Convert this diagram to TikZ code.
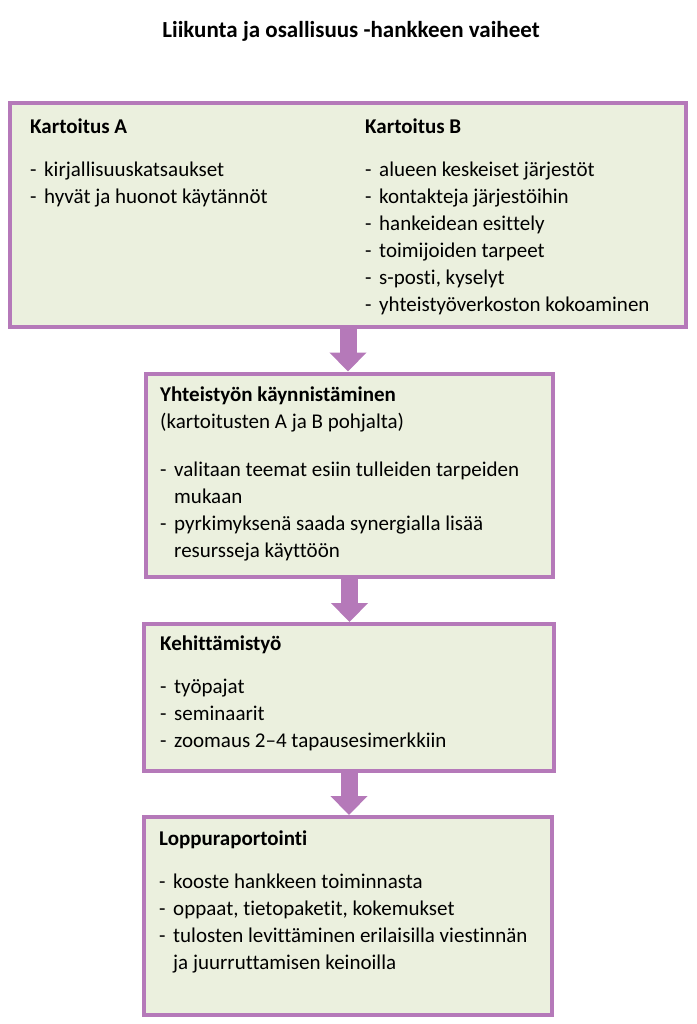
\documentclass[tikz,border=0pt]{standalone}
\usepackage{fontspec}
\setmainfont{Carlito}[Ligatures=NoCommon]
\usetikzlibrary{arrows.meta,positioning}
\definecolor{reuna}{RGB}{181,121,185}
\definecolor{tausta}{RGB}{235,240,222}
\newcommand{\kohta}[1]{\makebox[14pt][l]{-}#1}
\newcommand{\jatko}[1]{\hspace*{14pt}#1}
\newcommand{\ylin}{\rule{0pt}{20pt}}

\begin{document}
\begin{tikzpicture}[x=1pt,y=-1pt]
            % Tyylit
            \tikzstyle{vaihe}=[draw=reuna, line width=4pt, fill=tausta, rectangle]
            \tikzstyle{teksti}=[anchor=north west, inner sep=0pt, align=left, font=\fontsize{21}{27}\selectfont]
            \tikzstyle{nuoli}=[-{Triangle[width=36pt,length=19pt]}, draw=reuna, line width=17pt]

            \useasboundingbox (0,0) rectangle (696,1024);

            % Laatikot
            \node[vaihe, minimum width=676pt, minimum height=224pt] (kartoitus) at (348,215) {};
            \node[vaihe, minimum width=407pt, minimum height=203pt] (kaynnistys) at (349.5,475) {};
            \node[vaihe, minimum width=410pt, minimum height=147pt] (kehitys) at (349,697.5) {};
            \node[vaihe, minimum width=408pt, minimum height=198pt] (raportointi) at (348,916) {};

            % Tekstit (ylin rivi: perusviiva 20pt yläreunan alla)
            \node[anchor=base, inner sep=0pt, font=\fontsize{23}{27}\selectfont\bfseries] (otsikko) at (351,38) {Liikunta ja osallisuus -hankkeen vaiheet};

            \node[teksti] (kartoitusA) at (30,113) {\ylin\textbf{Kartoitus A}\\[16pt]
                \kohta{kirjallisuuskatsaukset}\\
                \kohta{hyvät ja huonot käytännöt}};
            \node[teksti] (kartoitusB) at (365,113) {\ylin\textbf{Kartoitus B}\\[16pt]
                \kohta{alueen keskeiset järjestöt}\\
                \kohta{kontakteja järjestöihin}\\
                \kohta{hankeidean esittely}\\
                \kohta{toimijoiden tarpeet}\\
                \kohta{s-posti, kyselyt}\\
                \kohta{yhteistyöverkoston kokoaminen}};
            \node[teksti] (yhteistyo) at (160,381) {\ylin\textbf{Yhteistyön käynnistäminen}\\
                (kartoitusten A ja B pohjalta)\\[21pt]
                \kohta{valitaan teemat esiin tulleiden tarpeiden}\\
                \jatko{mukaan}\\
                \kohta{pyrkimyksenä saada synergialla lisää}\\
                \jatko{resursseja käyttöön}};
            \node[teksti] (kehittamistyo) at (160,630) {\ylin\textbf{Kehittämistyö}\\[16pt]
                \kohta{työpajat}\\
                \kohta{seminaarit}\\
                \kohta{zoomaus 2--4 tapausesimerkkiin}};
            \node[teksti] (loppuraportti) at (159,825) {\ylin\textbf{Loppuraportointi}\\[16pt]
                \kohta{kooste hankkeen toiminnasta}\\
                \kohta{oppaat, tietopaketit, kokemukset}\\
                \kohta{tulosten levittäminen erilaisilla viestinnän}\\
                \jatko{ja juurruttamisen keinoilla}};

            % Nuolet
            \draw[nuoli] (kartoitus.south) -- (kartoitus.south |- kaynnistys.north);
            \draw[nuoli] (kaynnistys.south) -- (kaynnistys.south |- kehitys.north);
            \draw[nuoli] (kehitys.south) -- (kehitys.south |- raportointi.north);
\end{tikzpicture}
\end{document}
